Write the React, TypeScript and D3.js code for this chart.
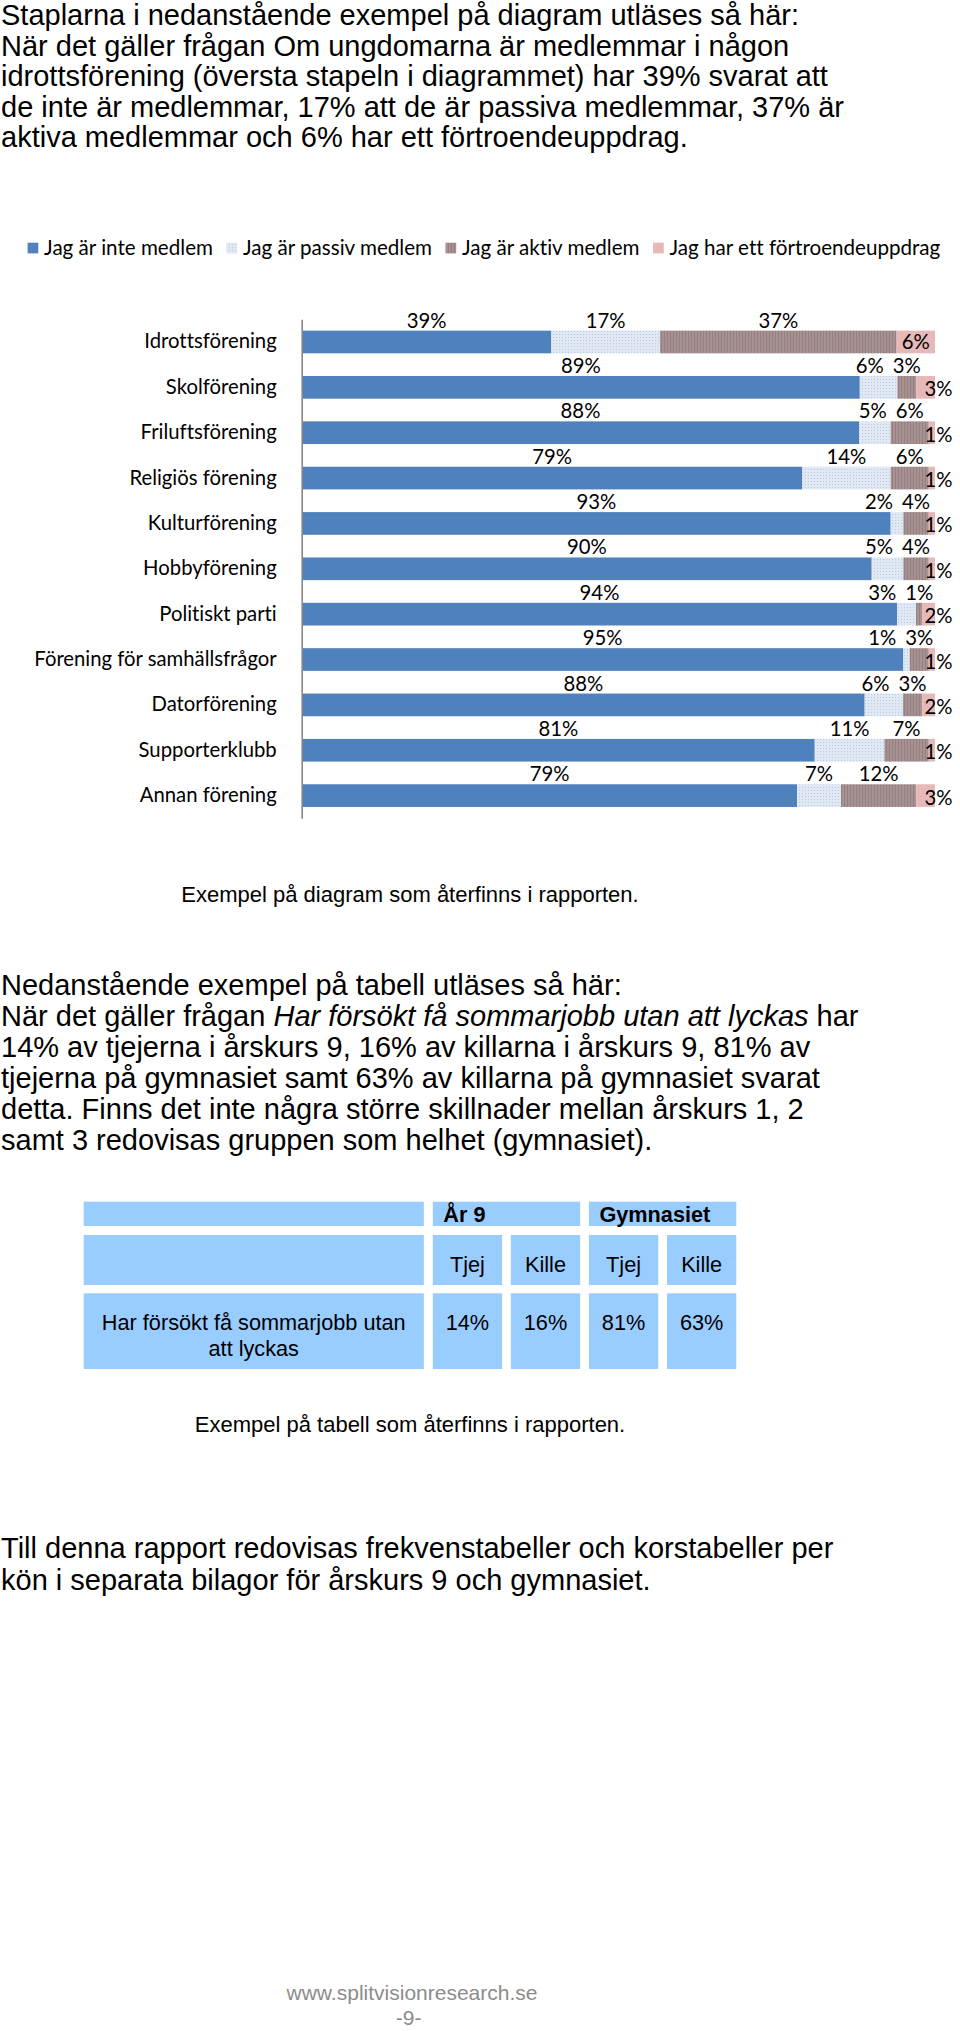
import React, { useEffect, useRef } from 'react';
import * as d3 from 'd3';

// ---------- data ----------
const categories = [
  'Idrottsförening',
  'Skolförening',
  'Friluftsförening',
  'Religiös förening',
  'Kulturförening',
  'Hobbyförening',
  'Politiskt parti',
  'Förening för samhällsfrågor',
  'Datorförening',
  'Supporterklubb',
  'Annan förening',
];
const notMember = [39, 89, 88, 79, 93, 90, 94, 95, 88, 81, 79];
const passiveMember = [17, 6, 5, 14, 2, 5, 3, 1, 6, 11, 7];
const activeMember = [37, 3, 6, 6, 4, 4, 1, 3, 3, 7, 12];
const trustAssignment = [6, 3, 1, 1, 1, 1, 2, 1, 2, 1, 3];
const seriesNames = [
  'Jag är inte medlem',
  'Jag är passiv medlem',
  'Jag är aktiv medlem',
  'Jag har ett förtroendeuppdrag',
];

const introLines = [
  'Staplarna i nedanstående exempel på diagram utläses så här:',
  'När det gäller frågan Om ungdomarna är medlemmar i någon',
  'idrottsförening (översta stapeln i diagrammet) har 39% svarat att',
  'de inte är medlemmar, 17% att de är passiva medlemmar, 37% är',
  'aktiva medlemmar och 6% har ett förtroendeuppdrag.',
];
const chartCaption = 'Exempel på diagram som återfinns i rapporten.';

const tableIntroLines: Array<Array<[string, boolean]>> = [
  [['Nedanstående exempel på tabell utläses så här:', false]],
  [
    ['När det gäller frågan ', false],
    ['Har försökt få sommarjobb utan att lyckas', true],
    [' har', false],
  ],
  [['14% av tjejerna i årskurs 9, 16% av killarna i årskurs 9, 81% av', false]],
  [['tjejerna på gymnasiet samt 63% av killarna på gymnasiet svarat', false]],
  [['detta. Finns det inte några större skillnader mellan årskurs 1, 2', false]],
  [['samt 3 redovisas gruppen som helhet (gymnasiet).', false]],
];

const tableGroups = ['År 9', 'Gymnasiet'];
const tableSubHeaders = ['Tjej', 'Kille', 'Tjej', 'Kille'];
const tableRowLabel = ['Har försökt få sommarjobb utan', 'att lyckas'];
const tableValues = ['14%', '16%', '81%', '63%'];
const tableCaption = 'Exempel på tabell som återfinns i rapporten.';

const closingLines = [
  'Till denna rapport redovisas frekvenstabeller och korstabeller per',
  'kön i separata bilagor för årskurs 9 och gymnasiet.',
];
const footerUrl = 'www.splitvisionresearch.se';
const footerPage = '-9-';

// ---------- styles ----------
const W = 960;
const H = 2031;
const BODY_FONT = "'Liberation Sans', Arial, sans-serif";
const CHART_FONT = "Lato, 'Open Sans', sans-serif";
const PARA_SIZE = 29;
const COLORS = ['#4f81bd', 'url(#passivePat)', 'url(#activePat)', '#e6b9b8'];
const NO_LIGA = 'font-variant-ligatures: none; font-feature-settings: "liga" 0, "clig" 0;';

export default function App() {
  const ref = useRef<SVGSVGElement | null>(null);

  useEffect(() => {
    const svg = d3.select(ref.current);
    svg.selectAll('*').remove();

    // patterns
    const defs = svg.append('defs');
    const pp = defs
      .append('pattern')
      .attr('id', 'passivePat')
      .attr('patternUnits', 'userSpaceOnUse')
      .attr('width', 3)
      .attr('height', 3);
    pp.append('rect').attr('width', 3).attr('height', 3).attr('fill', '#dfe8f3');
    pp.append('rect').attr('x', 1).attr('y', 1).attr('width', 1).attr('height', 1).attr('fill', '#b9cbe2');
    const ap = defs
      .append('pattern')
      .attr('id', 'activePat')
      .attr('patternUnits', 'userSpaceOnUse')
      .attr('width', 3)
      .attr('height', 3);
    ap.append('rect').attr('width', 3).attr('height', 3).attr('fill', '#a69292');
    ap.append('rect').attr('x', 1).attr('width', 1).attr('height', 3).attr('fill', '#95807f');

    svg.append('rect').attr('width', W).attr('height', H).attr('fill', '#ffffff');

    // intro text
    const intro = svg.append('text').attr('font-family', BODY_FONT).attr('font-size', PARA_SIZE).attr('fill', '#000');
    introLines.forEach((l, i) => intro.append('tspan').attr('x', 1).attr('y', 25 + i * 30.5).text(l));

    // legend
    const lg = svg
      .append('g')
      .attr('font-family', CHART_FONT)
      .attr('font-size', 20.6)
      .attr('fill', '#000')
      .attr('style', NO_LIGA);
    let lx = 27.6;
    seriesNames.forEach((name, i) => {
      lg.append('rect').attr('x', lx).attr('y', 242.7).attr('width', 10.7).attr('height', 10.7).attr('fill', COLORS[i]);
      const t = lg.append('text').attr('x', lx + 16.5).attr('y', 255).text(name);
      const w = (t.node() as SVGTextElement).getComputedTextLength();
      lx += 16.5 + w + 13.5;
    });

    // chart
    const y = d3.scaleBand<string>().domain(categories).range([319.3, 818.3]).paddingInner(0.5).paddingOuter(0.25);
    const x = d3.scaleLinear().domain([0, 1]).range([302, 935]);
    const chart = svg.append('g').attr('font-family', CHART_FONT).attr('font-size', 20.3).attr('style', NO_LIGA);

    categories.forEach((cat, i) => {
      const vals = [notMember[i], passiveMember[i], activeMember[i], trustAssignment[i]];
      const total = d3.sum(vals);
      const by = y(cat) as number;
      const bh = y.bandwidth();
      const cy = by + bh / 2;
      let acc = 0;
      const segs = vals.map((v) => {
        const x0 = x(acc / total);
        acc += v;
        const x1 = x(acc / total);
        return { v, x0, x1 };
      });
      segs.forEach((s, k) => {
        chart
          .append('rect')
          .attr('x', s.x0)
          .attr('y', by)
          .attr('width', s.x1 - s.x0)
          .attr('height', bh)
          .attr('fill', COLORS[k]);
      });
      // labels
      const texts = segs.map((s) =>
        chart.append('text').attr('text-anchor', 'middle').attr('fill', '#000').text(`${s.v}%`)
      );
      const widths = texts.map((t) => (t.node() as SVGTextElement).getComputedTextLength());
      const centers = segs.map((s) => (s.x0 + s.x1) / 2);
      // avoid overlap between passive and active labels
      const minDist = (widths[1] + widths[2]) / 2 + 9;
      if (centers[2] - centers[1] < minDist) centers[1] = centers[2] - minDist;
      for (let k = 0; k < 3; k++) {
        texts[k].attr('x', centers[k]).attr('y', by - 3);
      }
      const s4 = segs[3];
      if (s4.x1 - s4.x0 >= widths[3] + 4) {
        texts[3].attr('x', centers[3]).attr('y', cy + 7);
      } else {
        texts[3].attr('x', s4.x1 + 3.5).attr('y', cy + 9);
      }
    });

    const axis = d3.axisLeft(y).tickSize(0).tickSizeOuter(0).tickPadding(25);
    const ag = svg.append('g').attr('transform', 'translate(301.7,0)').call(axis);
    ag.select('.domain').attr('stroke', '#878787').attr('stroke-width', 1.6);
    ag.selectAll('text')
      .attr('font-family', CHART_FONT)
      .attr('font-size', 20.3)
      .attr('fill', '#000')
      .attr('style', NO_LIGA);

    // caption 1
    svg
      .append('text')
      .attr('x', 410)
      .attr('y', 901.7)
      .attr('text-anchor', 'middle')
      .attr('font-family', BODY_FONT)
      .attr('font-size', 22)
      .text(chartCaption);

    // table intro
    const ti = svg.append('text').attr('font-family', BODY_FONT).attr('font-size', PARA_SIZE).attr('fill', '#000');
    tableIntroLines.forEach((parts, i) => {
      parts.forEach(([txt, it], j) => {
        const ts = ti.append('tspan').text(txt).attr('font-style', it ? 'italic' : 'normal');
        if (j === 0) ts.attr('x', 1).attr('y', 995 + i * 31);
      });
    });

    // table
    const tg = svg.append('g').attr('font-family', BODY_FONT).attr('font-size', 21.7).attr('fill', '#000');
    const cellFill = '#99ccff';
    const labelCol = { x0: 83.7, x1: 423.8 };
    const sub = d3.scaleBand<number>().domain(d3.range(tableSubHeaders.length)).range([432.8, 736.3]).paddingInner(0.112);
    const rowsY = [
      [1201.7, 1226],
      [1235, 1285],
      [1293.3, 1369],
    ];
    rowsY.forEach(([y0, y1]) => {
      tg.append('rect').attr('x', labelCol.x0).attr('y', y0).attr('width', labelCol.x1 - labelCol.x0).attr('height', y1 - y0).attr('fill', cellFill);
    });
    tableGroups.forEach((gname, gi) => {
      const a = sub(gi * 2) as number;
      const b = (sub(gi * 2 + 1) as number) + sub.bandwidth();
      tg.append('rect').attr('x', a).attr('y', rowsY[0][0]).attr('width', b - a).attr('height', rowsY[0][1] - rowsY[0][0]).attr('fill', cellFill);
      tg.append('text').attr('x', a + 10.5).attr('y', 1221.7).attr('font-weight', 'bold').text(gname);
    });
    tableSubHeaders.forEach((h, k) => {
      const a = sub(k) as number;
      const cx = a + sub.bandwidth() / 2;
      [1, 2].forEach((r) => {
        tg.append('rect').attr('x', a).attr('y', rowsY[r][0]).attr('width', sub.bandwidth()).attr('height', rowsY[r][1] - rowsY[r][0]).attr('fill', cellFill);
      });
      tg.append('text').attr('x', cx).attr('y', 1271.7).attr('text-anchor', 'middle').text(h);
      tg.append('text').attr('x', cx).attr('y', 1330).attr('text-anchor', 'middle').text(tableValues[k]);
    });
    tableRowLabel.forEach((l, i) => {
      tg.append('text')
        .attr('x', (labelCol.x0 + labelCol.x1) / 2)
        .attr('y', 1330 + i * 25.7)
        .attr('text-anchor', 'middle')
        .text(l);
    });

    // caption 2
    svg
      .append('text')
      .attr('x', 410)
      .attr('y', 1431.7)
      .attr('text-anchor', 'middle')
      .attr('font-family', BODY_FONT)
      .attr('font-size', 22)
      .text(tableCaption);

    // closing text
    const cl = svg.append('text').attr('font-family', BODY_FONT).attr('font-size', PARA_SIZE).attr('fill', '#000');
    closingLines.forEach((l, i) => cl.append('tspan').attr('x', 1).attr('y', 1558 + i * 31.5).text(l));

    // footer
    svg
      .append('text')
      .attr('x', 412)
      .attr('y', 2000)
      .attr('text-anchor', 'middle')
      .attr('font-family', BODY_FONT)
      .attr('font-size', 21)
      .attr('fill', '#8c8c8c')
      .text(footerUrl);
    svg
      .append('text')
      .attr('x', 408.7)
      .attr('y', 2025)
      .attr('text-anchor', 'middle')
      .attr('font-family', BODY_FONT)
      .attr('font-size', 21)
      .attr('fill', '#8c8c8c')
      .text(footerPage);
  }, []);

  return (
    <svg
      ref={ref}
      width={W}
      height={H}
      viewBox={`0 0 ${W} ${H}`}
      style={{ position: 'absolute', left: 0, top: 0, display: 'block' }}
    />
  );
}
